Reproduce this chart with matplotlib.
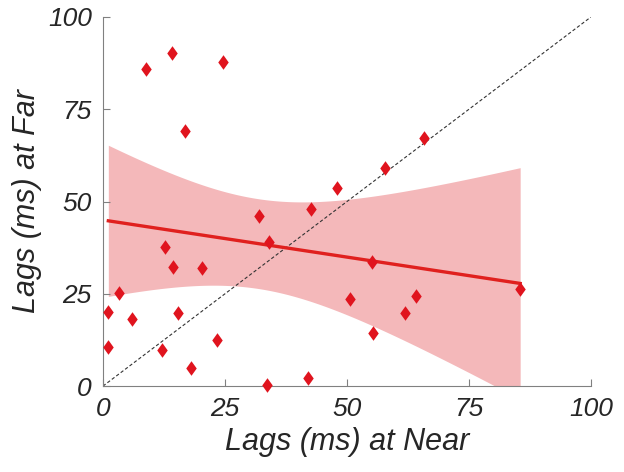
import numpy as np
import matplotlib
matplotlib.use("Agg")
import matplotlib.pyplot as plt
from matplotlib.path import Path

plt.rcParams['font.family'] = ['Liberation Sans', 'DejaVu Sans']

# lags (ms)
lag_near = np.array([1.1, 1.1, 3.3, 5.9, 8.9, 12.0, 12.8, 14.1, 14.3, 15.4,
                     16.8, 18.0, 20.2, 23.4, 24.5, 32.0, 33.6, 34.0, 42.1, 42.7,
                     47.9, 50.6, 55.1, 55.4, 57.9, 61.9, 64.2, 65.8, 85.5])
lag_far = np.array([20.1, 10.6, 25.1, 18.1, 85.9, 9.7, 37.6, 90.2, 32.2, 19.9,
                    69.2, 5.0, 31.9, 12.4, 87.8, 46.2, 0.4, 39.1, 2.1, 48.1,
                    53.7, 23.5, 33.7, 14.3, 59.2, 19.7, 24.4, 67.2, 26.4])
ticks = [0, 25, 50, 75, 100]

# fitted line and band as shown in the reference
fit_intercept = 45.0
fit_slope = -0.201
ci_scale = 65.5  # t * residual sd

n = len(lag_near)
xm = lag_near.mean()
sxx = np.sum((lag_near - xm) ** 2)
xs = np.linspace(lag_near.min(), lag_near.max(), 200)
fit = fit_slope * xs + fit_intercept
half = ci_scale * np.sqrt(1 / n + (xs - xm) ** 2 / sxx)

# slightly narrow diamond marker
diamond = Path([(0, 1), (0.72, 0), (0, -1), (-0.72, 0), (0, 1)],
               [Path.MOVETO, Path.LINETO, Path.LINETO, Path.LINETO, Path.CLOSEPOLY])

fig = plt.figure(figsize=(6.24, 4.72), dpi=100)
ax = fig.add_axes([0.165, 0.182, 0.782, 0.782])

ax.fill_between(xs, fit - half, fit + half, color='#f4b8ba', lw=0, zorder=1)
ax.plot([0, 100], [0, 100], ls=(0, (3, 2)), color='#333333', lw=0.8, zorder=2)
ax.plot(xs, fit, color='#e0201e', lw=2.4, zorder=3)
ax.scatter(lag_near, lag_far, marker=diamond, s=110, color='#e0141e', lw=0,
           zorder=4, clip_on=False)

ax.set_xlim(0, 100)
ax.set_ylim(0, 100)
ax.set_xticks(ticks)
ax.set_yticks(ticks)
ax.tick_params(direction='in', length=5, color='#808080', labelsize=19,
               labelcolor='#262626', pad=8)
for lbl in ax.get_xticklabels() + ax.get_yticklabels():
    lbl.set_fontstyle('italic')
for side in ['top', 'right']:
    ax.spines[side].set_visible(False)
for side in ['left', 'bottom']:
    ax.spines[side].set_color('#808080')

ax.set_xlabel('Lags (ms) at Near', fontsize=22, style='italic', color='#262626')
ax.set_ylabel('Lags (ms) at Far', fontsize=22, style='italic', color='#262626')

fig.savefig('out.png', dpi=100)
